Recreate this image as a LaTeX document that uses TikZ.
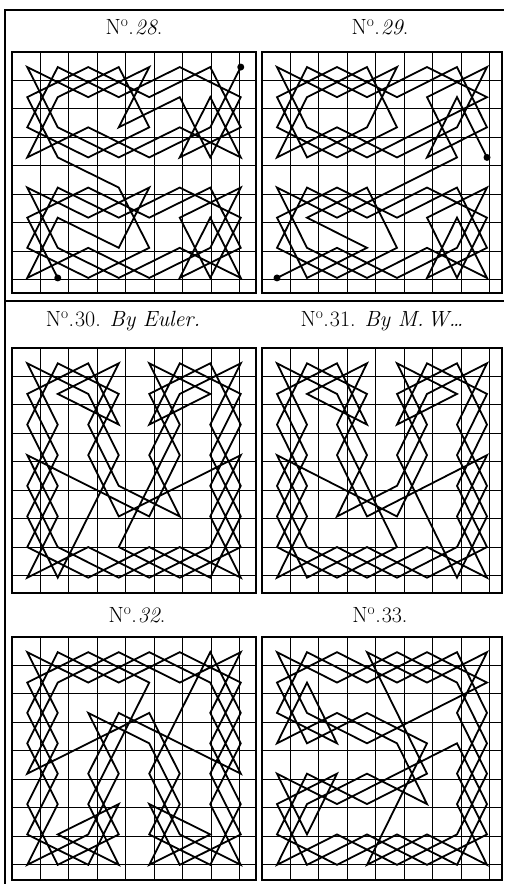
\documentclass[tikz,border=0pt]{standalone}
\usepackage{fontspec}
\usepackage{tikz}

\tikzset{
  frameline/.style={line width=2pt},
  boardedge/.style={line width=2.2pt},
  cellgrid/.style={line width=0.9pt},
  tour/.style={line width=1.8pt, line join=miter},
  endmark/.style={fill=black},
  title/.style={font=\fontsize{22}{26}\selectfont, inner sep=0pt},
}

% an 8x8 board: x0, y0, cell width, cell height
\newcommand{\chessboard}[4]{%
  \begin{scope}[shift={(#1,#2)}, x=#3pt, y=-#4pt]
    \draw[cellgrid] (0,0) grid (8,8);
    \draw[boardedge] (0,0) rectangle (8,8);
  \end{scope}}

\newcommand{\numero}{N\textsuperscript{o}.\kern1pt}

\begin{document}
\begin{tikzpicture}[x=1pt, y=-1pt]
  \useasboundingbox (0,0) rectangle (504,884);
  \fill[white] (0,0) rectangle (504,884);

  % outer frame and separator
  \draw[frameline] (5,884) -- (5,10) -- (504,10);
  \draw[frameline] (5,301) -- (504,301);

  % titles
  \node[title] (t28) at (134,27) {\numero\textit{28}.};
  \node[title] (t29) at (380,27) {\numero\textit{29}.};
  \node[title] (t30) at (123,321) {\numero 30. \textit{By Euler.}};
  \node[title] (t31) at (382,321) {\numero 31. \textit{By M.\,W\dots}};
  \node[title] (t32) at (137,615) {\numero\textit{32}.};
  \node[title] (t33) at (380,615) {\numero 33.};

  % boards
  \chessboard{12}{52}{30.5}{30.125}
  \chessboard{262}{52}{30}{30.125}
  \chessboard{12}{348}{30.5}{30.625}
  \chessboard{262}{348}{30}{30.625}
  \chessboard{12}{637}{30.5}{30.375}
  \chessboard{262}{637}{30}{30.375}

  % No 28: upper half first, then lower half
  \begin{scope}[shift={(12,52)}, x=30.5pt, y=-30.125pt, shift={(0.5,0.5)}]
    \draw[tour] plot coordinates {(7,0) (6,2) (4,3) (2,2) (0,3) (1,1) (3,0) (4,2)
      (2,3) (0,2) (1,0) (3,1) (5,0) (7,1) (6,3) (5,1) (3,2) (4,0) (2,1) (0,0)
      (1,2) (3,3) (5,2) (7,3) (6,1) (5,3) (7,2) (6,0) (4,1) (2,0) (0,1) (1,3)
      (3,4) (4,6) (2,7) (0,6) (1,4) (3,5) (5,4) (7,5) (6,7) (5,5) (7,4) (6,6)
      (4,7) (2,6) (0,7) (1,5) (3,6) (4,4) (2,5) (0,4) (1,6) (3,7) (5,6) (7,7)
      (6,5) (5,7) (7,6) (6,4) (4,5) (2,4) (0,5) (1,7)};
    \fill[endmark] (7,0) circle (3.5pt);
    \fill[endmark] (1,7) circle (3.5pt);
  \end{scope}

  % No 29
  \begin{scope}[shift={(262,52)}, x=30pt, y=-30.125pt, shift={(0.5,0.5)}]
    \draw[tour] plot coordinates {(7,3) (6,1) (5,3) (7,2) (6,0) (4,1) (2,0) (0,1)
      (1,3) (3,2) (4,0) (2,1) (0,0) (1,2) (3,3) (5,2) (7,1) (5,0) (3,1) (1,0)
      (0,2) (2,3) (4,2) (3,0) (1,1) (0,3) (2,2) (4,3) (6,2) (7,0) (5,1) (6,3)
      (4,4) (2,5) (0,4) (1,6) (3,7) (5,6) (7,7) (6,5) (5,7) (7,6) (6,4) (4,5)
      (2,4) (0,5) (1,7) (3,6) (1,5) (3,4) (4,6) (2,7) (0,6) (1,4) (3,5) (5,4)
      (7,5) (6,7) (5,5) (7,4) (6,6) (4,7) (2,6) (0,7)};
    \fill[endmark] (7,3) circle (3.5pt);
    \fill[endmark] (0,7) circle (3.5pt);
  \end{scope}

  % No 30: border first
  \begin{scope}[shift={(12,348)}, x=30.5pt, y=-30.625pt, shift={(0.5,0.5)}]
    \draw[tour] plot coordinates {(0,0) (2,1) (3,3) (2,5) (1,7) (0,5) (1,3) (0,1)
      (2,0) (3,2) (1,1) (3,0) (2,2) (3,4) (5,5) (4,3) (5,1) (7,0) (6,2) (7,4)
      (6,6) (4,7) (2,6) (0,7) (1,5) (0,3) (2,4) (4,5) (5,3) (4,1) (6,0) (7,2)
      (6,4) (7,6) (5,7) (3,6) (4,4) (5,2) (4,0) (6,1) (4,2) (5,0) (7,1) (6,3)
      (7,5) (6,7) (4,6) (2,7) (0,6) (1,4) (0,2) (1,0) (3,1) (2,3) (3,5) (5,4)
      (7,3) (6,5) (7,7) (5,6) (3,7) (1,6) (0,4) (1,2)} -- cycle;
  \end{scope}

  % No 31
  \begin{scope}[shift={(262,348)}, x=30pt, y=-30.625pt, shift={(0.5,0.5)}]
    \draw[tour] plot coordinates {(7,0) (5,1) (4,3) (5,5) (6,7) (7,5) (6,3) (7,1)
      (5,0) (4,2) (6,1) (4,0) (5,2) (4,4) (2,5) (3,3) (2,1) (0,0) (1,2) (0,4)
      (1,6) (3,7) (5,6) (7,7) (6,5) (7,3) (5,4) (3,5) (2,3) (3,1) (1,0) (0,2)
      (1,4) (0,6) (2,7) (4,6) (3,4) (2,2) (3,0) (1,1) (3,2) (2,0) (0,1) (1,3)
      (0,5) (1,7) (3,6) (5,7) (7,6) (6,4) (7,2) (6,0) (4,1) (5,3) (4,5) (2,4)
      (0,3) (1,5) (0,7) (2,6) (4,7) (6,6) (7,4) (6,2)} -- cycle;
  \end{scope}

  % No 32
  \begin{scope}[shift={(12,637)}, x=30.5pt, y=-30.375pt, shift={(0.5,0.5)}]
    \draw[tour] plot coordinates {(7,7) (5,6) (4,4) (5,2) (6,0) (7,2) (6,4) (7,6)
      (5,7) (4,5) (6,6) (4,7) (5,5) (4,3) (2,2) (3,4) (2,6) (0,7) (1,5) (0,3)
      (1,1) (3,0) (5,1) (7,0) (6,2) (7,4) (5,3) (3,2) (2,4) (3,6) (1,7) (0,5)
      (1,3) (0,1) (2,0) (4,1) (3,3) (2,5) (3,7) (1,6) (3,5) (2,7) (0,6) (1,4)
      (0,2) (1,0) (3,1) (5,0) (7,1) (6,3) (7,5) (6,7) (4,6) (5,4) (4,2) (2,3)
      (0,4) (1,2) (0,0) (2,1) (4,0) (6,1) (7,3) (6,5)} -- cycle;
  \end{scope}

  % No 33
  \begin{scope}[shift={(262,637)}, x=30pt, y=-30.375pt, shift={(0.5,0.5)}]
    \draw[tour] plot coordinates {(0,0) (1,2) (3,3) (5,2) (7,1) (5,0) (3,1) (1,0)
      (0,2) (2,3) (1,1) (0,3) (2,2) (4,3) (5,5) (3,4) (1,5) (0,7) (2,6) (4,7)
      (6,6) (7,4) (6,2) (7,0) (5,1) (3,0) (4,2) (5,4) (3,5) (1,4) (0,6) (2,7)
      (4,6) (6,7) (7,5) (6,3) (4,4) (2,5) (0,4) (1,6) (2,4) (0,5) (1,7) (3,6)
      (5,7) (7,6) (6,4) (7,2) (6,0) (4,1) (2,0) (0,1) (1,3) (3,2) (5,3) (4,5)
      (3,7) (5,6) (7,7) (6,5) (7,3) (6,1) (4,0) (2,1)} -- cycle;
  \end{scope}
\end{tikzpicture}
\end{document}
